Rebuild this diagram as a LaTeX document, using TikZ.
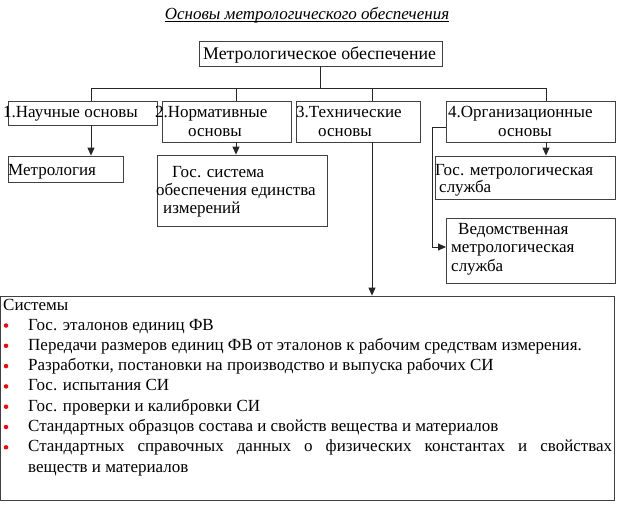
\documentclass[tikz,border=0pt]{standalone}
\usepackage{fontspec}
\setmainfont{Liberation Serif}
\usetikzlibrary{arrows.meta}
\newcommand\fsz{\fontsize{17}{19}\selectfont}
\begin{document}
\begin{tikzpicture}[x=1pt,y=-1pt,
  box/.style={draw=black!75, line width=0.8pt, inner sep=0pt},
  conn/.style={draw=black!85, line width=0.9pt},
  arr/.style={conn, -{Triangle[length=8pt,width=7pt]}},
  txt/.style={inner sep=0pt, anchor=base west, font=\fsz},
  bul/.style={fill=red, draw=none, circle, inner sep=0pt, minimum size=4.5pt},
]
\useasboundingbox (0,0) rectangle (623,512);
% boxes
\node[box, minimum width=243pt, minimum height=25pt] (main) at (320.5,53.5) {};
\node[box, minimum width=149pt, minimum height=24pt] (b1) at (82.5,113) {};
\node[box, minimum width=129pt, minimum height=41pt] (b2) at (226.5,121.5) {};
\node[box, minimum width=124pt, minimum height=41pt] (b3) at (358,121.5) {};
\node[box, minimum width=169pt, minimum height=41pt] (b4) at (530.5,121.5) {};
\node[box, minimum width=115pt, minimum height=26pt] (metr) at (65.5,169) {};
\node[box, minimum width=170pt, minimum height=71pt] (gss) at (242,190.5) {};
\node[box, minimum width=180pt, minimum height=43pt] (gms) at (525,177.5) {};
\node[box, minimum width=169pt, minimum height=65pt] (ved) at (530.5,250.5) {};
\node[box, minimum width=613.5pt, minimum height=204pt] (sys) at (307.5,398) {};
% connectors
\coordinate (j1) at (91,88);
\coordinate (j2) at (236,88);
\coordinate (j3) at (372,88);
\coordinate (j4) at (546,88);
\coordinate (k) at (432,127);
\coordinate (v) at (446,247);
\draw[conn] (main.south) -- (main.south |- j1);
\draw[conn] (j1) -- (j4);
\draw[conn] (j1) -- (j1 |- b1.north);
\draw[conn] (j2) -- (j2 |- b2.north);
\draw[conn] (j3) -- (j3 |- b3.north);
\draw[conn] (j4) -- (j4 |- b4.north);
\draw[arr] (j1 |- b1.south) -- (j1 |- metr.north);
\draw[arr] (j2 |- b2.south) -- (j2 |- gss.north);
\draw[arr] (j3 |- b3.south) -- (j3 |- sys.north);
\draw[arr] (j4 |- b4.south) -- (j4 |- gms.north);
\draw[arr] (k -| b4.west) -- (k) |- (v);
% title
\node[inner sep=0pt, anchor=base, font=\fontsize{17}{19}\selectfont\itshape] (title) at (307,19) {Основы метрологического обеспечения};
\draw[line width=0.6pt] ([yshift=-2pt]title.base west) -- ([yshift=-2pt]title.base east);
% texts
\node[txt, font=\fontsize{17.8}{19}\selectfont] (tmain) at (203,59) {Метрологическое обеспечение};
\node[txt] (t1) at (3,117) {1.Научные основы};
\node[txt] (t2a) at (155,117) {2.Нормативные};
\node[txt] (t2b) at (188,136) {основы};
\node[txt] (t3a) at (296,117) {3.Технические};
\node[txt] (t3b) at (318,136) {основы};
\node[txt] (t4a) at (448,117) {4.Организационные};
\node[txt] (t4b) at (498,136) {основы};
\node[txt] (tmetr) at (8,175) {Метрология};
\node[txt] (tg1) at (172,177) {Гос. система};
\node[txt] (tg2) at (156,195) {обеспечения единства};
\node[txt] (tg3) at (163,213) {измерений};
\node[txt] (tm1) at (435,175) {Гос. метрологическая};
\node[txt] (tm2) at (439,192) {служба};
\node[txt] (tv1) at (458,234) {Ведомственная};
\node[txt] (tv2) at (451,252) {метрологическая};
\node[txt] (tv3) at (451,271) {служба};
\node[txt] (ts) at (3,310) {Системы};
\foreach \i/\t in {0/{Гос. эталонов единиц ФВ},
  1/{Передачи размеров единиц ФВ от эталонов к рабочим средствам измерения.},
  2/{Разработки, постановки на производство и выпуска рабочих СИ},
  3/{Гос. испытания СИ},
  4/{Гос. проверки и калибровки СИ},
  5/{Стандартных образцов состава и свойств вещества и материалов}}{
  \node[txt] (it\i) at (28,330+20.3*\i) {\t};
  \node[bul] (bu\i) at (6,325.5+20.3*\i) {};
}
\node[txt] (it6) at (28,330+20.3*6) {\makebox[584pt][s]{Стандартных справочных данных о физических константах и свойствах}};
\node[bul] (bu6) at (6,325.5+20.3*6) {};
\node[txt] (it7) at (28,330+20.3*7) {веществ и материалов};
\end{tikzpicture}
\end{document}
